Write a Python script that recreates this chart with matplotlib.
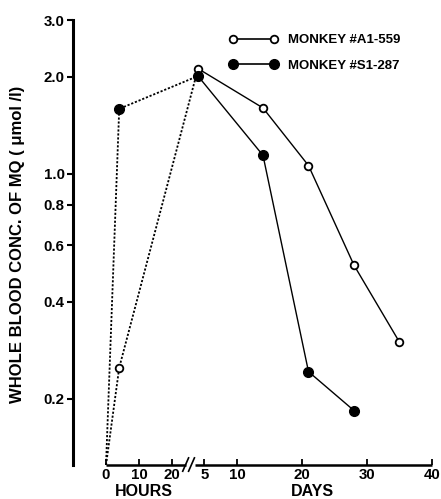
import matplotlib
matplotlib.use("Agg")
import matplotlib.pyplot as plt
import matplotlib.transforms as mtransforms
from matplotlib.lines import Line2D

plt.rcParams['font.family'] = ['Liberation Sans', 'DejaVu Sans']
plt.rcParams['font.weight'] = 'bold'

# ---------------- data ----------------
BASELINE = 0.1247          # concentration at time 0 (drawn at the axis floor)
hour_times = [0, 4]        # hours after dose
day_times_a = [4, 14, 21, 28, 35]
day_times_s = [4, 14, 21, 28]

a1_hours_vals = [BASELINE, 0.25]
a1_days_vals = [2.12, 1.60, 1.06, 0.52, 0.30]
s1_hours_vals = [BASELINE, 1.59]
s1_days_vals = [2.01, 1.14, 0.243, 0.184]

hour_ticks = [0, 10, 20]
day_ticks = [5, 10, 20, 30, 40]
y_ticks = [0.2, 0.4, 0.6, 0.8, 1.0, 2.0, 3.0]
y_ticklabels = ['0.2', '0.4', '0.6', '0.8', '1.0', '2.0', '3.0']

label_a = 'MONKEY #A1-559'
label_s = 'MONKEY #S1-287'

# ---------------- layout helpers ----------------
HOUR_ORIGIN = -10.15      # position of hour 0 on the (day) axis
HOUR_SCALE = 0.5077       # day-axis units per hour


def hpos(h):
    return HOUR_ORIGIN + h * HOUR_SCALE

W, H = 441, 499
fig = plt.figure(figsize=(W / 100, H / 100), dpi=100)
ax = fig.add_axes([73 / W, (H - 465) / H, (432 - 73) / W, (465 - 20) / H])
ax.set_yscale('log')
ax.set_ylim(BASELINE, 3.0)
ax.set_xlim(-15.23, 40)

fs = 10.8

# dotted early segments
for hv, dv, t0 in [(a1_hours_vals, a1_days_vals, day_times_a[0]),
                   (s1_hours_vals, s1_days_vals, day_times_s[0])]:
    xs = [hpos(h) for h in hour_times] + [t0]
    ys = list(hv) + [dv[0]]
    ax.plot(xs, ys, color='black', lw=1.3, ls=(0, (1.2, 1.0)), clip_on=False, zorder=2)

# solid later segments
ax.plot(day_times_a, a1_days_vals, color='black', lw=1.0, zorder=2)
ax.plot(day_times_s, s1_days_vals, color='black', lw=1.0, zorder=2)

# markers
ax.plot([hpos(hour_times[1])] + day_times_a, [a1_hours_vals[1]] + a1_days_vals,
        ls='none', marker='o', ms=5.5, mfc='white', mec='black', mew=1.3, zorder=3)
ax.plot([hpos(hour_times[1])] + day_times_s, [s1_hours_vals[1]] + s1_days_vals,
        ls='none', marker='o', ms=7, mfc='black', mec='black', mew=1.0, zorder=4)

# axes styling
for s in ['top', 'right', 'bottom']:
    ax.spines[s].set_visible(False)
ax.spines['left'].set_linewidth(2.2)
ax.yaxis.set_minor_locator(matplotlib.ticker.NullLocator())
ax.set_yticks(y_ticks)
ax.set_yticklabels(y_ticklabels, fontsize=fs, fontweight='bold')
ax.tick_params(axis='y', direction='out', length=4, width=1.5, pad=2)

xt = [hpos(h) for h in hour_ticks] + day_ticks
xl = [str(h) for h in hour_ticks] + [str(d) for d in day_ticks]
ax.set_xticks(xt)
ax.set_xticklabels(xl, fontsize=fs, fontweight='bold')
ax.tick_params(axis='x', direction='in', length=4, width=1.3, pad=2)

# broken bottom axis
tr = mtransforms.blended_transform_factory(ax.transData, ax.transAxes)
ax.plot([hpos(0), 2.1], [0, 0], color='black', lw=1.8, transform=tr, clip_on=False,
        solid_capstyle='butt')
ax.plot([3.6, 40], [0, 0], color='black', lw=1.8, transform=tr, clip_on=False,
        solid_capstyle='butt')
for x0 in [2.1, 3.0]:
    ax.plot([x0 - 0.45, x0 + 0.45], [-0.014, 0.016], color='black', lw=1.2,
            transform=tr, clip_on=False)

# axis titles
fig.text(144 / W, (H - 491) / H, 'HOURS', ha='center', va='center', fontsize=11.5,
         fontweight='bold')
fig.text(312 / W, (H - 491) / H, 'DAYS', ha='center', va='center', fontsize=11.5,
         fontweight='bold')
fig.text(18 / W, (H - 244) / H, 'WHOLE BLOOD CONC. OF MQ ( \u03bcmol /l)', rotation=90,
         ha='center', va='center', fontsize=12, fontweight='bold')

# legend
handles = [Line2D([0], [0], color='black', lw=1.2, marker='o', ms=5.5, mfc='white',
                  mec='black', mew=1.3),
           Line2D([0], [0], color='black', lw=1.2, marker='o', ms=7, mfc='black',
                  mec='black')]
leg = ax.legend(handles, [label_a, label_s], loc='upper left',
                bbox_to_anchor=(229 / W, (H - 34) / H), bbox_transform=fig.transFigure,
                frameon=False, numpoints=2, handlelength=3.7, handletextpad=0.8,
                labelspacing=1.0, borderpad=0, borderaxespad=0,
                prop={'size': 9.5, 'weight': 'bold'})

fig.savefig('out.png', dpi=100)
